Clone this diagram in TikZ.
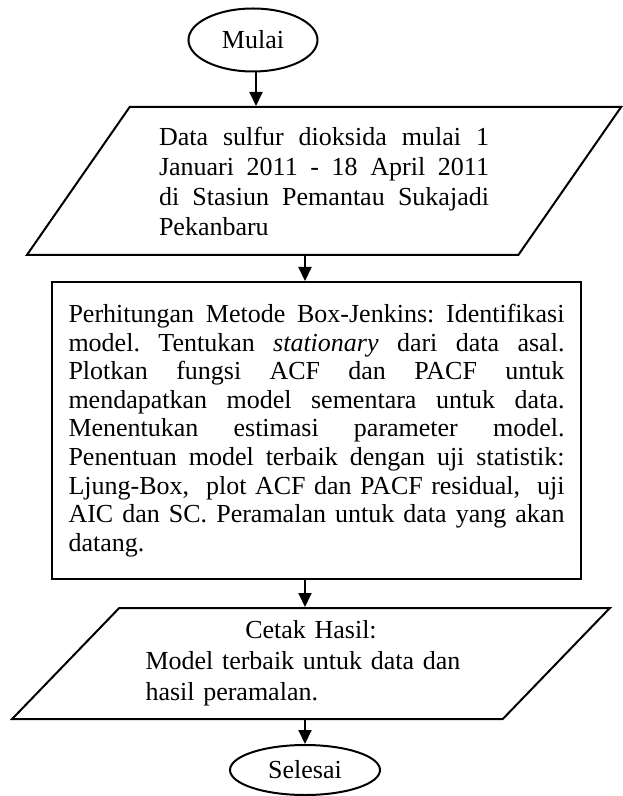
\documentclass[tikz,border=0pt]{standalone}
\usepackage{fontspec}
\setmainfont{Liberation Serif}
\usepackage{tikz}
\usetikzlibrary{shapes.geometric, positioning, arrows.meta}
\frenchspacing

\begin{document}
\begin{tikzpicture}[x=0.5pt, y=-0.5pt,
    every node/.style={font=\fontsize{13}{14.3}\selectfont, line width=1pt},
    term/.style={draw, ellipse, inner sep=0pt},
    io/.style={draw, trapezium, trapezium stretches=true, inner sep=0pt},
    proc/.style={draw, rectangle, minimum width=264.5pt, minimum height=148.5pt,
                 text width=248pt, align=justify},
    arr/.style={line width=1pt, -{Triangle[length=7pt, width=6.5pt]}}
  ]
  \useasboundingbox (0,0) rectangle (622,796);

  % start
  \node[term, minimum width=64.5pt, minimum height=31.5pt] (mulai) at (253,40) {Mulai};

  % input data
  \node[io, trapezium left angle=51.2, trapezium right angle=128.8,
        minimum width=298pt, minimum height=74pt,
        text width=165pt, align=justify,
        font=\fontsize{13}{15}\selectfont] (data) at (324,181)
       {Data sulfur dioksida mulai 1\linebreak
        Januari 2011 - 18 April 2011\linebreak
        di Stasiun Pemantau Sukajadi\linebreak
        Pekanbaru};

  % Box-Jenkins
  \node[proc] (proses) at (316.5,430.5)
       {\hyphenpenalty=10000 \exhyphenpenalty=10000
        Perhitungan Metode Box-Jenkins: Identifikasi\linebreak
        model. Tentukan \textit{stationary} dari data asal.\linebreak
        Plotkan fungsi ACF dan PACF untuk\linebreak
        mendapatkan model sementara untuk data.\linebreak
        Menentukan estimasi parameter model.\linebreak
        Penentuan model terbaik dengan uji statistik:\linebreak
        Ljung-Box,\ \ plot ACF dan PACF residual,\ \ uji\linebreak
        AIC dan SC. Peramalan untuk data yang akan\linebreak
        datang.};

  % output
  \node[io, trapezium left angle=42.8, trapezium right angle=137.2,
        minimum width=299pt, minimum height=55.5pt,
        text width=165.5pt, align=left,
        font=\fontsize{13}{15.5}\selectfont] (hasil) at (311,663.5)
       {\hfill Cetak Hasil:\hfill\null\\
        Model terbaik untuk data dan\\
        hasil peramalan.};

  % end
  \node[term, minimum width=75pt, minimum height=25pt] (selesai) at (305,770) {Selesai};

  \draw[arr] ([xshift=1.5pt]mulai.south) -- ([xshift=1.5pt]mulai.south |- data.north);
  \draw[arr] (selesai |- data.south) -- (selesai |- proses.north);
  \draw[arr] (selesai |- proses.south) -- (selesai |- hasil.north);
  \draw[arr] (selesai |- hasil.south) -- (selesai.north);
\end{tikzpicture}
\end{document}
